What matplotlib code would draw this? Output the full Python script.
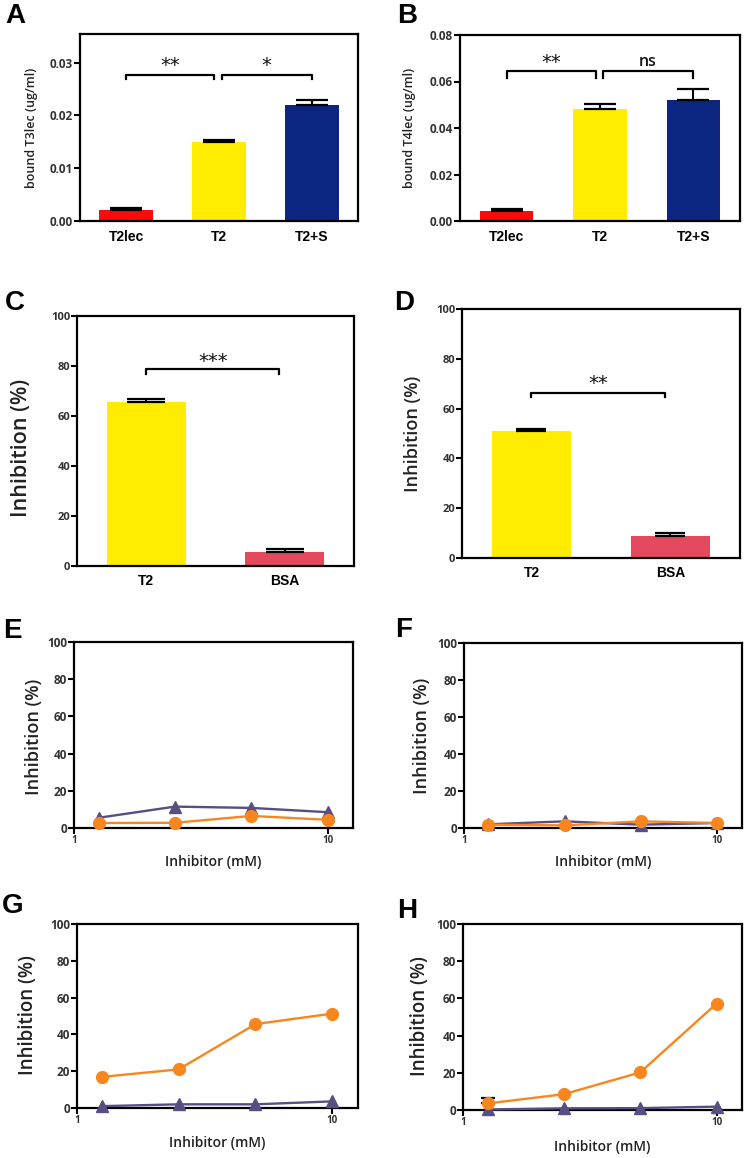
import numpy as np
import matplotlib
matplotlib.use('Agg')
import matplotlib.pyplot as plt
from matplotlib.ticker import FormatStrFormatter

plt.rcParams['font.family'] = ['Open Sans', 'DejaVu Sans']

# A / B: bound lectin
ab_groups = ['T2lec', 'T2', 'T2+S']
t3_bound = [0.0020, 0.0150, 0.0220]
t3_err = [0.0004, 0.0003, 0.0010]
t4_bound = [0.0045, 0.0480, 0.0522]
t4_err = [0.0007, 0.0025, 0.0044]
ab_colors = ['#FF0A0A', '#FFEC00', '#0B2580']

# C / D: inhibition by T2 vs BSA
cd_groups = ['T2', 'BSA']
inhib_c = [65.5, 5.5]
inhib_c_err = [1.4, 1.3]
inhib_d = [51.0, 9.0]
inhib_d_err = [0.8, 1.2]
cd_colors = ['#FFEC00', '#E5495E']

# significance marks (bracket height, label)
sig_a = [(0.0277, '**'), (0.0277, '*')]
sig_b = [(0.0645, '**'), (0.0645, 'ns')]
sig_c = [(78.8, '***')]
sig_d = [(66.4, '**')]

# E-H: inhibitor dose curves
conc_mm = [1.25, 2.5, 5, 10]
e_circle = [2.7, 2.8, 6.5, 4.4]
e_triangle = [5.5, 11.5, 10.8, 8.5]
f_circle = [1.8, 1.4, 3.6, 2.7]
f_triangle = [2.0, 3.6, 1.8, 2.7]
g_circle = [16.9, 21.0, 45.6, 51.3]
g_triangle = [1.0, 2.0, 2.0, 3.6]
h_circle = [3.5, 8.5, 20.2, 57.2]
h_circle_err = [3.2, 0, 0, 0]
h_triangle = [0.3, 0.9, 1.0, 1.8]

ORANGE = '#F7861F'
PURPLE = '#584E82'
W, H = 745, 1158

fig = plt.figure(figsize=(W / 100, H / 100), dpi=100)


def px_axes(left, top, right, bottom):
    return fig.add_axes([left / W, 1 - bottom / H, (right - left) / W, (bottom - top) / H])


def style(ax, yticks, ysize, fmt=None):
    for s in ax.spines.values():
        s.set_linewidth(1.6)
    ax.set_yticks(yticks)
    if fmt:
        ax.yaxis.set_major_formatter(FormatStrFormatter(fmt))
    ax.tick_params(axis='y', direction='out', length=4, width=1.5, labelsize=ysize,
                   labelcolor='#333333', pad=1)
    for lab in ax.get_yticklabels():
        lab.set_fontweight('bold')


def ylabel(ax, text, size, x, y=0.5):
    ax.set_ylabel(text, fontsize=size, color='#222222', fontweight='semibold')
    ax.yaxis.label.set_verticalalignment('center')
    ax.yaxis.set_label_coords(x, y)


def bar_panel(ax, groups, vals, errs, colors, width, capsize, pad):
    x = np.arange(len(groups))
    ax.bar(x, vals, width=width, color=colors, zorder=2)
    ax.errorbar(x, vals, yerr=[np.zeros(len(vals)), errs], fmt='none', ecolor='black',
                elinewidth=1.5, capsize=capsize, capthick=1.6, zorder=3)
    ax.set_xlim(-0.5, len(groups) - 0.5)
    ax.set_xticks(x)
    ax.set_xticklabels(groups, fontfamily='Liberation Sans', fontweight='bold', fontsize=10)
    ax.tick_params(axis='x', length=0, pad=pad)


def bracket(ax, x0, x1, y, tip, label, dy, size):
    ax.plot([x0, x0, x1, x1], [y - tip, y, y, y - tip], color='black', lw=1.6, zorder=4)
    ax.text((x0 + x1) / 2, y + dy, label, ha='center', va='center', fontsize=size,
            fontfamily='DejaVu Sans', color='#111111')


def line_panel(ax, circles, triangles, circle_err=None):
    ax.plot(conc_mm, triangles, color=PURPLE, lw=1.7, marker='^', ms=8.5, zorder=3, clip_on=False)
    ax.plot(conc_mm, circles, color=ORANGE, lw=1.7, marker='o', ms=8.5, zorder=4, clip_on=False)
    if circle_err is not None:
        keep = [i for i, e in enumerate(circle_err) if e > 0]
        ax.errorbar([conc_mm[i] for i in keep], [circles[i] for i in keep],
                    yerr=[[0] * len(keep), [circle_err[i] for i in keep]], fmt='none',
                    ecolor='black', elinewidth=1.5, capsize=4.7, capthick=1.6, zorder=2)
    ax.set_xscale('log')
    ax.set_xlim(1, 12.6)
    ax.set_ylim(0, 100)
    ax.set_xticks([1, 10])
    ax.set_xticklabels(['1', '10'], fontsize=7, fontweight='bold', color='#333333')
    ax.xaxis.set_minor_locator(matplotlib.ticker.NullLocator())
    ax.tick_params(axis='x', direction='out', length=4, width=1.5, pad=1)
    style(ax, [0, 20, 40, 60, 80, 100], 8.5)
    ax.set_xlabel('Inhibitor (mM)', fontsize=10, color='#222222', fontweight='semibold')
    ax.xaxis.label.set_verticalalignment('center')


# A
ax = px_axes(80, 34, 358, 221)
bar_panel(ax, ab_groups, t3_bound, t3_err, ab_colors, 0.58, 11.2, 6.5)
ax.set_ylim(0, 0.0354)
style(ax, [0, 0.01, 0.02, 0.03], 8.5, '%.2f')
ylabel(ax, 'bound T3lec (ug/ml)', 9, -0.173)
bracket(ax, 0, 0.95, sig_a[0][0], 0.0009, sig_a[0][1], 0.0017, 14)
bracket(ax, 1.03, 2.0, sig_a[1][0], 0.0009, sig_a[1][1], 0.0017, 14)

# B
ax = px_axes(460, 35, 740, 221)
bar_panel(ax, ab_groups, t4_bound, t4_err, ab_colors, 0.57, 11.4, 6.5)
ax.set_ylim(0, 0.08)
style(ax, [0, 0.02, 0.04, 0.06, 0.08], 8.5, '%.2f')
ylabel(ax, 'bound T4lec (ug/ml)', 9, -0.179)
bracket(ax, 0, 0.96, sig_b[0][0], 0.003, sig_b[0][1], 0.0038, 14)
ax.text(1.515, sig_b[1][0] + 0.0038, sig_b[1][1], ha='center', va='center', fontsize=11.5,
        fontweight='semibold', color='#111111')
ax.plot([1.03, 1.03, 2.0, 2.0], [sig_b[1][0] - 0.003, sig_b[1][0], sig_b[1][0], sig_b[1][0] - 0.003],
        color='black', lw=1.6, zorder=4)

# C
ax = px_axes(77, 316, 354, 566)
bar_panel(ax, cd_groups, inhib_c, inhib_c_err, cd_colors, 0.57, 14, 5.5)
ax.set_ylim(0, 100)
style(ax, [0, 20, 40, 60, 80, 100], 8)
ylabel(ax, 'Inhibition (%)', 15.5, -0.199, 0.472)
bracket(ax, 0, 0.96, sig_c[0][0], 2.0, sig_c[0][1], 2.8, 14)

# D
ax = px_axes(462, 309, 740, 558)
bar_panel(ax, cd_groups, inhib_d, inhib_d_err, cd_colors, 0.57, 11, 5.5)
ax.set_ylim(0, 100)
style(ax, [0, 20, 40, 60, 80, 100], 8)
ylabel(ax, 'Inhibition (%)', 13, -0.176)
bracket(ax, 0, 0.96, sig_d[0][0], 1.6, sig_d[0][1], 3.5, 14)

# E
ax = px_axes(74, 642, 353, 828)
line_panel(ax, e_circle, e_triangle)
ylabel(ax, 'Inhibition (%)', 13, -0.145, 0.49)
ax.xaxis.set_label_coords(0.5, -34 / 186)

# F
ax = px_axes(464, 643, 742, 828)
line_panel(ax, f_circle, f_triangle)
ylabel(ax, 'Inhibition (%)', 13, -0.151)
ax.xaxis.set_label_coords(0.5, -34 / 185)

# G
ax = px_axes(77, 924, 358, 1108)
line_panel(ax, g_circle, g_triangle)
ylabel(ax, 'Inhibition (%)', 13.5, -0.173, 0.505)
ax.xaxis.set_label_coords(0.5, -35 / 184)

# H
ax = px_axes(463, 924, 742, 1110)
line_panel(ax, h_circle, h_triangle, h_circle_err)
ylabel(ax, 'Inhibition (%)', 13.5, -0.154, 0.505)
ax.xaxis.set_label_coords(0.5, -37 / 186)

# panel letters
for letter, (lx, ly) in zip('ABCDEFGH', [(5, 23), (397, 23), (5, 310), (394, 310),
                                         (3, 638), (395, 637), (2, 913), (397, 918)]):
    fig.text(lx / W, 1 - ly / H, letter, fontsize=20, fontweight='bold',
             fontfamily='Liberation Sans', ha='left', va='baseline')

fig.savefig('out.png', dpi=100)
